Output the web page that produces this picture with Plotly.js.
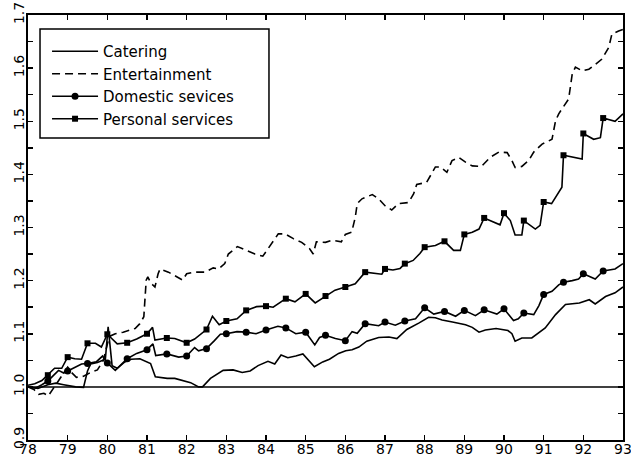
<!DOCTYPE html>
<html>
<head>
<meta charset="utf-8">
<script src="https://cdn.plot.ly/plotly-3.0.1.min.js"></script>
<style>
  html, body { margin: 0; padding: 0; background: #fff; }
  #chart { width: 631px; height: 464px; }
</style>
</head>
<body>
<div id="chart"></div>
<script>
// ---- data ----
const seriesNames = ["Catering", "Entertainment", "Domestic sevices", "Personal services"];

const cateringX = [78.0,78.25,78.5,78.7,78.9,79.2,79.4,79.5,79.58,79.75,79.95,80.02,80.12,80.25,80.44,80.6,80.82,81.0,81.09,81.21,81.51,81.7,81.93,82.1,82.3,82.4,82.6,82.92,83.17,83.4,83.6,83.8,84.05,84.22,84.38,84.55,84.75,84.93,85.22,85.43,85.6,85.83,86.01,86.17,86.34,86.54,86.84,87.1,87.3,87.55,87.85,88.1,88.27,88.44,88.7,89.03,89.2,89.37,89.53,89.8,90.1,90.2,90.28,90.45,90.7,91.04,91.3,91.55,91.9,92.15,92.3,92.56,92.8,93.0];
const cateringY = [1.000,0.997,1.004,1.007,1.004,1.000,0.999,1.030,1.043,1.046,1.052,1.113,1.040,1.035,1.047,1.052,1.053,1.048,1.044,1.019,1.016,1.016,1.012,1.008,1.000,1.000,1.016,1.031,1.032,1.027,1.030,1.040,1.048,1.043,1.060,1.055,1.058,1.062,1.038,1.047,1.052,1.063,1.068,1.070,1.075,1.086,1.093,1.094,1.091,1.108,1.120,1.131,1.130,1.126,1.122,1.117,1.112,1.103,1.107,1.110,1.106,1.100,1.086,1.092,1.092,1.111,1.136,1.155,1.158,1.164,1.156,1.170,1.177,1.188];

const entertainmentX = [78.0,78.15,78.27,78.4,78.51,78.62,78.75,78.9,79.0,79.1,79.22,79.4,79.6,79.75,79.9,80.05,80.2,80.4,80.55,80.7,80.82,80.92,80.98,81.02,81.1,81.2,81.28,81.33,81.54,81.7,81.9,82.0,82.18,82.47,82.67,82.8,82.96,83.05,83.28,83.5,83.72,83.92,84.05,84.18,84.31,84.48,84.69,84.9,85.1,85.19,85.27,85.5,85.66,85.9,86.0,86.16,86.25,86.3,86.42,86.68,86.84,87.0,87.17,87.34,87.59,87.72,87.8,88.05,88.27,88.4,88.56,88.69,88.86,89.03,89.2,89.43,89.65,89.87,90.08,90.2,90.28,90.45,90.62,90.75,90.96,91.21,91.3,91.38,91.63,91.72,91.8,91.97,92.14,92.3,92.47,92.64,92.72,92.89,93.0];
const entertainmentY = [1.000,0.995,0.986,0.988,0.983,0.995,1.010,1.028,1.037,1.027,1.018,1.020,1.028,1.032,1.050,1.095,1.100,1.103,1.106,1.110,1.119,1.132,1.201,1.207,1.195,1.188,1.213,1.222,1.216,1.210,1.201,1.213,1.216,1.216,1.224,1.222,1.232,1.250,1.264,1.257,1.250,1.246,1.260,1.275,1.288,1.288,1.279,1.272,1.260,1.250,1.273,1.272,1.276,1.273,1.287,1.291,1.319,1.345,1.354,1.362,1.354,1.341,1.333,1.345,1.347,1.363,1.381,1.385,1.414,1.414,1.404,1.426,1.432,1.423,1.416,1.415,1.432,1.442,1.441,1.426,1.413,1.415,1.426,1.442,1.457,1.466,1.501,1.514,1.542,1.589,1.602,1.595,1.598,1.607,1.617,1.639,1.664,1.670,1.673];

const domesticX = [78.0,78.2,78.35,78.5,78.65,78.77,78.9,79.0,79.18,79.35,79.5,79.72,79.88,80.0,80.2,80.34,80.5,80.74,81.0,81.15,81.22,81.5,81.8,82.0,82.2,82.3,82.5,82.7,82.85,83.0,83.27,83.5,83.75,84.0,84.3,84.5,84.75,85.0,85.23,85.35,85.5,85.75,86.0,86.17,86.3,86.5,86.84,87.0,87.26,87.5,87.77,88.0,88.23,88.5,88.78,89.0,89.28,89.5,89.82,90.0,90.24,90.36,90.5,90.75,90.88,91.0,91.21,91.38,91.5,91.72,91.88,92.0,92.3,92.5,92.8,93.0];
const domesticY = [1.000,0.998,1.004,1.011,1.022,1.031,1.026,1.030,1.037,1.043,1.044,1.047,1.058,1.045,1.031,1.042,1.053,1.063,1.070,1.081,1.059,1.062,1.056,1.058,1.074,1.068,1.072,1.087,1.099,1.100,1.104,1.103,1.100,1.107,1.114,1.111,1.100,1.103,1.079,1.093,1.097,1.091,1.087,1.104,1.101,1.119,1.115,1.122,1.116,1.124,1.128,1.149,1.137,1.142,1.133,1.144,1.134,1.145,1.137,1.147,1.125,1.128,1.139,1.136,1.153,1.174,1.180,1.192,1.197,1.200,1.203,1.213,1.203,1.218,1.222,1.232];

const personalX = [78.0,78.17,78.35,78.5,78.67,78.85,79.0,79.18,79.35,79.5,79.7,79.85,80.0,80.25,80.5,80.74,81.0,81.14,81.2,81.5,81.7,82.0,82.2,82.5,82.65,82.82,83.0,83.27,83.5,83.76,84.0,84.18,84.5,84.73,85.0,85.24,85.5,85.74,86.0,86.25,86.5,86.7,86.92,87.0,87.2,87.38,87.5,87.71,87.88,88.0,88.27,88.5,88.73,88.9,89.0,89.2,89.37,89.5,89.7,89.9,90.0,90.16,90.28,90.45,90.5,90.79,90.91,91.0,91.2,91.46,91.5,91.97,92.0,92.26,92.43,92.5,92.8,93.0];
const personalY = [1.003,1.006,1.012,1.022,1.035,1.035,1.056,1.053,1.052,1.082,1.082,1.075,1.099,1.081,1.083,1.090,1.100,1.112,1.088,1.092,1.091,1.083,1.090,1.108,1.133,1.117,1.124,1.128,1.144,1.151,1.152,1.150,1.166,1.160,1.175,1.158,1.171,1.182,1.188,1.194,1.216,1.214,1.212,1.222,1.220,1.223,1.232,1.238,1.251,1.263,1.266,1.274,1.257,1.257,1.287,1.291,1.297,1.318,1.311,1.305,1.327,1.313,1.286,1.286,1.313,1.297,1.304,1.348,1.345,1.376,1.436,1.429,1.477,1.466,1.469,1.506,1.500,1.514];

const xTickVals = [78,79,80,81,82,83,84,85,86,87,88,89,90,91,92,93];
const xTickText = ["78","79","80","81","82","83","84","85","86","87","88","89","90","91","92","93"];
const yTickVals = [0.9,1.0,1.1,1.2,1.3,1.4,1.5,1.6,1.7];
const yTickText = ["0.9","1.0","1.1","1.2","1.3","1.4","1.5","1.6","1.7"];
const baselineLevel = 1.0;

// ---- helpers ----
function halfYearPoints(xs, ys) {
  const mx = [], my = [];
  for (let i = 0; i < xs.length; i++) {
    const d = xs[i] * 2;
    if (Math.abs(d - Math.round(d)) < 1e-6 && xs[i] > xs[0] && xs[i] < xs[xs.length - 1]) {
      mx.push(xs[i]); my.push(ys[i]);
    }
  }
  return {x: mx, y: my};
}

const FONT = "DejaVu Sans, Verdana, sans-serif";
const LW = 1.6;
const dashStyle = "8px,5px";

const domM = halfYearPoints(domesticX, domesticY);
const perM = halfYearPoints(personalX, personalY);

const traces = [
  {x: [cateringX[0], cateringX[cateringX.length-1]], y: [baselineLevel, baselineLevel],
   mode: "lines", line: {color: "#000", width: 1.5}, showlegend: false, hoverinfo: "skip"},
  {x: cateringX, y: cateringY, mode: "lines", name: seriesNames[0],
   line: {color: "#000", width: LW}, legendgroup: "a"},
  {x: entertainmentX, y: entertainmentY, mode: "lines", name: seriesNames[1],
   line: {color: "#000", width: LW, dash: dashStyle}, legendgroup: "b"},
  {x: domesticX, y: domesticY, mode: "lines", name: seriesNames[2],
   line: {color: "#000", width: LW}, showlegend: false, legendgroup: "c"},
  {x: domM.x, y: domM.y, mode: "markers", name: seriesNames[2],
   marker: {color: "#000", size: 7, symbol: "circle"}, showlegend: false, legendgroup: "c"},
  {x: [null], y: [null], mode: "lines+markers", name: seriesNames[2],
   line: {color: "#000", width: LW}, marker: {color: "#000", size: 7, symbol: "circle"}, legendgroup: "c"},
  {x: personalX, y: personalY, mode: "lines", name: seriesNames[3],
   line: {color: "#000", width: LW}, showlegend: false, legendgroup: "d"},
  {x: perM.x, y: perM.y, mode: "markers", name: seriesNames[3],
   marker: {color: "#000", size: 6, symbol: "square"}, showlegend: false, legendgroup: "d"},
  {x: [null], y: [null], mode: "lines+markers", name: seriesNames[3],
   line: {color: "#000", width: LW}, marker: {color: "#000", size: 6, symbol: "square"}, legendgroup: "d"}
];

const layout = {
  width: 631, height: 464,
  margin: {l: 28, r: 8, t: 15, b: 24, pad: 0},
  paper_bgcolor: "#fff", plot_bgcolor: "#fff",
  font: {family: FONT, size: 14, color: "#000"},
  showlegend: true,
  legend: {
    x: 0.032, y: 0.953, xanchor: "left", yanchor: "top",
    bgcolor: "rgba(0,0,0,0)", borderwidth: 0,
    font: {family: FONT, size: 15, color: "#000"},
    traceorder: "grouped", tracegroupgap: 0, itemwidth: 46
  },
  // frame of the legend box
  shapes: [{
    type: "rect", xref: "paper", yref: "paper",
    x0: 0.0202, x1: 0.405, y0: 0.7106, y1: 0.967,
    line: {color: "#000", width: 1.5}, fillcolor: "#fff", layer: "above"
  }],
  xaxis: {
    range: [78, 93], showgrid: false, zeroline: false,
    showline: true, linecolor: "#000", linewidth: 2, mirror: "ticks",
    ticks: "inside", ticklen: 5, tickwidth: 1.5, tickcolor: "#000",
    tickmode: "array", tickvals: xTickVals, ticktext: xTickText,
    ticklabeloverflow: "allow", ticklabelstandoff: -5,
    tickfont: {family: FONT, size: 14, color: "#000"}
  },
  yaxis: {
    range: [0.9, 1.7], showgrid: false, zeroline: false,
    showline: true, linecolor: "#000", linewidth: 2, mirror: "ticks",
    ticks: "inside", ticklen: 5, tickwidth: 1.5, tickcolor: "#000",
    tickmode: "array", tickvals: yTickVals, ticktext: yTickText,
    tickangle: -90, ticklabeloverflow: "allow", ticklabelstandoff: -4,
    tickfont: {family: FONT, size: 14, color: "#000"},
    minor: {dtick: 0.05, ticks: "inside", ticklen: 5, tickwidth: 1.5, tickcolor: "#000", showgrid: false}
  }
};

Plotly.newPlot("chart", traces, layout, {staticPlot: true, displayModeBar: false});
</script>
</body>
</html>
